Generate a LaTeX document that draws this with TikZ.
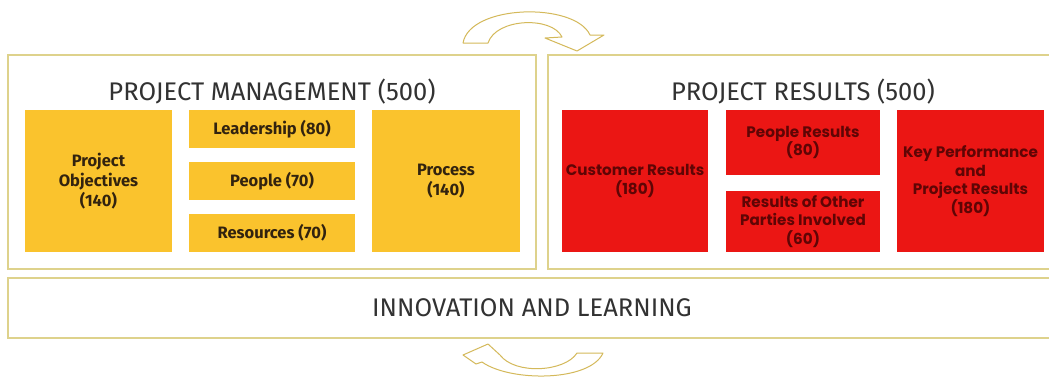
\documentclass[tikz,border=0pt]{standalone}
\usepackage{fontspec}
\setmainfont{Fira Sans}
\newfontfamily\redfont{Poppins}
\definecolor{ylw}{RGB}{250,195,45}
\definecolor{rd}{RGB}{235,22,20}
\definecolor{framec}{RGB}{222,210,140}
\definecolor{arrowc}{RGB}{212,185,90}
\definecolor{titlec}{RGB}{50,50,50}
\definecolor{ytext}{RGB}{50,35,15}
\definecolor{rtext}{RGB}{95,5,5}
\tikzset{
  frame/.style={draw=framec, line width=1.4pt, anchor=north west, inner sep=0pt, outer sep=0pt},
  ybox/.style={fill=ylw, anchor=north west, inner sep=0pt, outer sep=0pt, align=center,
     text=ytext, font=\fontsize{16.5}{20}\selectfont\bfseries},
  rbox/.style={fill=rd, anchor=north west, inner sep=0pt, outer sep=0pt, align=center,
     text=rtext, font=\redfont\fontsize{15.2}{18.5}\selectfont\bfseries},
  title/.style={text=titlec, font=\fontsize{25.5}{28}\selectfont, inner sep=0pt},
  cyc/.style={draw=arrowc, fill=white, line width=1pt, line join=round}
}
\begin{document}
\begin{tikzpicture}[x=1pt,y=-1pt]
\useasboundingbox (0,0) rectangle (1049,378);
\fill[white] (0,0) rectangle (1049,378);
% frames
\node[frame, minimum width=528pt, minimum height=214pt] (pm) at (8,55) {};
\node[frame, minimum width=506pt, minimum height=214pt] (pr) at (548,55) {};
\node[frame, minimum width=1046pt, minimum height=60pt] (il) at (8,278) {};
% titles
\node[title] (pmt) at (272,92) {PROJECT MANAGEMENT (500)};
\node[title] (prt) at (803,92) {PROJECT RESULTS (500)};
\node[title] (ilt) at (532,308) {INNOVATION AND LEARNING};
% yellow boxes
\node[ybox, minimum width=147pt, minimum height=142pt] (po) at (25,110) {Project\\Objectives\\(140)};
\node[ybox, minimum width=166pt, minimum height=38pt] (le) at (189,110) {Leadership (80)};
\node[ybox, minimum width=166pt, minimum height=38pt] (pe) at (189,162) {People (70)};
\node[ybox, minimum width=166pt, minimum height=38pt] (re) at (189,214) {Resources (70)};
\node[ybox, minimum width=148pt, minimum height=142pt] (proc) at (372,110) {Process\\(140)};
% red boxes
\node[rbox, minimum width=146pt, minimum height=142pt] (cr) at (562,110) {Customer Results\\(180)};
\node[rbox, minimum width=154pt, minimum height=65pt] (prr) at (726,110) {People Results\\(80)};
\node[rbox, minimum width=154pt, minimum height=61pt] (ro) at (726,191) {Results of Other\\Parties Involved\\(60)};
\node[rbox, minimum width=147pt, minimum height=142pt] (kp) at (897,110) {Key Performance\\and\\Project Results\\(180)};
% cycle arrows
\draw[cyc] (463,43) -- (488,43) .. controls (496,18) and (552,16) .. (562,37)
  -- (545,38) -- (577,51) -- (604,35) -- (590,35)
  .. controls (575,2) and (470,4) .. (463,43) -- cycle;
\draw[cyc] (463,355) -- (488,344) -- (500,355)
  .. controls (515,375) and (565,372) .. (577,353) -- (603,353)
  .. controls (590,382) and (510,382) .. (482,362) -- (476,364) -- cycle;
\end{tikzpicture}
\end{document}
